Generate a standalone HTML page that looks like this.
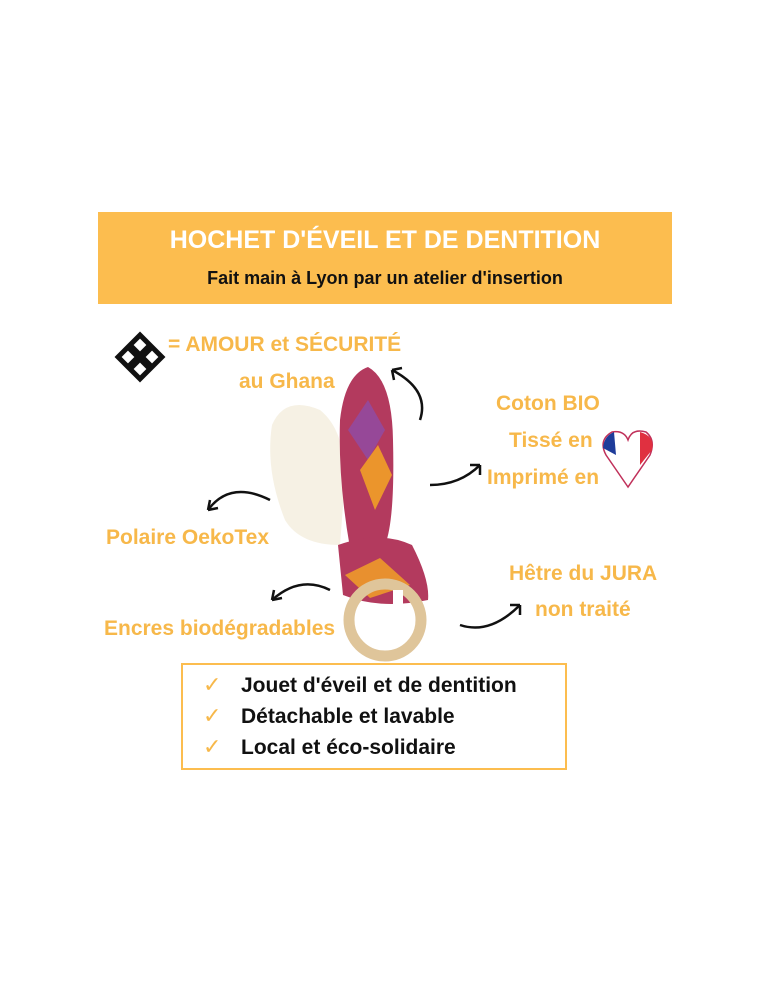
<!DOCTYPE html>
<html><head><meta charset="utf-8"><style>
body{margin:0;width:771px;height:1000px;background:#fff;position:relative;overflow:hidden;font-family:"Liberation Sans","DejaVu Sans",sans-serif}
.a{position:absolute;white-space:nowrap;font-weight:bold}
.o{color:#f7b84a;font-size:21px}
.k{color:#111;font-size:21px}
</style></head><body>
<div style="position:absolute;left:98px;top:212px;width:574px;height:92px;background:#fcbd4f"></div>
<div class="a" style="left:98px;width:574px;text-align:center;top:226px;color:#fff;font-size:25px">HOCHET D'ÉVEIL ET DE DENTITION</div>
<div class="a" style="left:98px;width:574px;text-align:center;top:268px;color:#111;font-size:18px">Fait main à Lyon par un atelier d'insertion</div>

<svg style="position:absolute;left:0;top:0" width="771" height="1000">
<g transform="translate(140,357) rotate(45)">
<rect x="-18" y="-18" width="36" height="36" fill="#111"/>
<rect x="-13" y="-13" width="9" height="9" fill="#fff"/><rect x="4" y="-13" width="9" height="9" fill="#fff"/>
<rect x="-13" y="4" width="9" height="9" fill="#fff"/><rect x="4" y="4" width="9" height="9" fill="#fff"/>
</g>
<!-- product -->
<path d="M272 425 Q285 395 320 410 Q345 430 345 480 L340 545 Q300 545 285 520 Q265 470 272 425Z" fill="#f6f1e4"/>
<path d="M340 420 Q345 375 368 367 Q392 380 393 440 Q395 520 385 545 L350 548 Q338 480 340 420Z" fill="#b33a5e"/>
<path d="M348 430 L368 400 L385 430 L368 460Z" fill="#8a4fb0" opacity=".7"/>
<path d="M360 470 L378 445 L392 475 L375 510 Z" fill="#f5a623" opacity=".85"/>
<path d="M338 545 Q380 530 412 545 Q430 580 428 600 Q380 610 343 595 Z" fill="#b33a5e"/>
<path d="M345 575 L380 558 L410 585 L370 598Z" fill="#f5a623" opacity=".8"/>
<circle cx="385" cy="620" r="36" fill="none" stroke="#dfc59a" stroke-width="11"/>
<rect x="393" y="590" width="10" height="40" fill="#fff"/>
<!-- arrows -->
<g fill="none" stroke="#111" stroke-width="2.5">
<path d="M392 370 Q430 390 420 420"/><path d="M392 370 l10 -2 M392 370 l2 10"/>
<path d="M430 485 Q460 485 480 465"/><path d="M480 465 l-10 0 M480 465 l0 10"/>
<path d="M270 500 Q230 480 208 510"/><path d="M208 510 l2 -10 M208 510 l10 -2"/>
<path d="M330 590 Q300 575 272 600"/><path d="M272 600 l2 -10 M272 600 l10 -2"/>
<path d="M460 625 Q490 635 520 605"/><path d="M520 605 l-10 0 M520 605 l0 10"/>
</g>
<!-- heart -->
<path d="M628 487 L606 455 Q598 440 612 432 Q624 430 628 440 Q632 428 646 432 Q656 440 650 455 Z" fill="#fff" stroke="#c0305a" stroke-width="1.5"/>
<path d="M603 448 Q604 436 614 432 L616 455 Z" fill="#1e3c9a"/>
<path d="M640 432 Q655 436 652 450 L640 465 Z" fill="#e03040"/>
</svg>

<div class="a o" style="left:168px;top:333px">= AMOUR et SÉCURITÉ</div>
<div class="a o" style="left:239px;top:370px">au Ghana</div>
<div class="a o" style="left:496px;top:392px">Coton BIO</div>
<div class="a o" style="left:509px;top:429px">Tissé en</div>
<div class="a o" style="left:487px;top:466px">Imprimé en</div>
<div class="a o" style="left:106px;top:526px">Polaire OekoTex</div>
<div class="a o" style="left:509px;top:562px">Hêtre du JURA</div>
<div class="a o" style="left:535px;top:598px">non traité</div>
<div class="a o" style="left:104px;top:617px">Encres biodégradables</div>

<div style="position:absolute;left:181px;top:663px;width:382px;height:103px;border:2.5px solid #fcbd4f"></div>
<div class="a" style="left:203px;top:672px;color:#f7b84a;font-size:22px;font-weight:normal">✓</div>
<div class="a" style="left:203px;top:703px;color:#f7b84a;font-size:22px;font-weight:normal">✓</div>
<div class="a" style="left:203px;top:734px;color:#f7b84a;font-size:22px;font-weight:normal">✓</div>
<div class="a k" style="left:241px;top:674px">Jouet d'éveil et de dentition</div>
<div class="a k" style="left:241px;top:705px">Détachable et lavable</div>
<div class="a k" style="left:241px;top:736px">Local et éco-solidaire</div>
</body></html>
